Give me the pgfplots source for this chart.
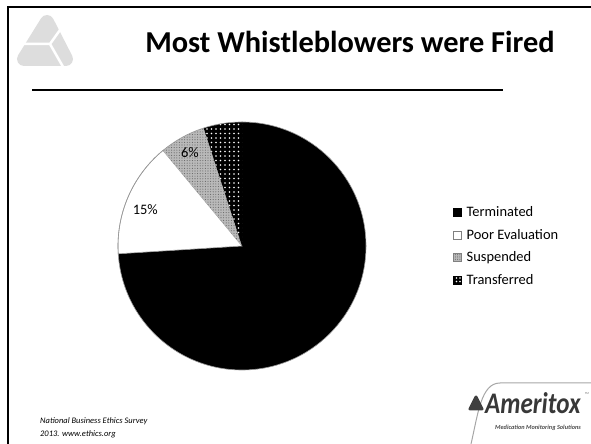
\documentclass[border=0pt]{standalone}
\usepackage{fontspec}
\setmainfont{Carlito}
\usepackage{pgfplots}
\pgfplotsset{compat=1.18}
\usepackage{pgfplotstable}
\usetikzlibrary{patterns.meta}

\pgfplotstableread{
label value
Terminated 74
Poor 15
Suspended 6
Transferred 5
}\piedata

\begin{document}
\begin{tikzpicture}[x=1bp,y=1bp]
\useasboundingbox (0,0) rectangle (591,444);
% slide frame
\draw[line width=2bp] (8,0) -- (8,437) -- (591,437);
% top-left logo
\begin{scope}
\filldraw[gray!27, line width=14bp, line join=round] (47,422) -- (24,385) -- (66,385) -- cycle;
\draw[white, line width=2.5bp] (10,400) -- (50,400) -- (70,428);
\draw[white, line width=2.5bp] (50,400) -- (66,372);
\end{scope}
% title
\node[anchor=base, font=\bfseries\fontsize{30.5}{33}\selectfont] at (350,391) {Most Whistleblowers were Fired};
\draw[line width=1.5bp] (32,354) -- (503,354);
% footer
\node[anchor=base west, inner sep=0pt, font=\itshape\fontsize{8.5}{10}\selectfont] at (40,20) {National Business Ethics Survey};
\node[anchor=base west, inner sep=0pt, font=\itshape\fontsize{8.5}{10}\selectfont] at (40,7) {2013. www.ethics.org};
% bottom-right logo
\draw[gray!70, line width=1bp] (471,0) .. controls (478,30) and (481,61) .. (500,61) -- (591,61);
\filldraw[black!75, line width=3bp, line join=round] (476,47) -- (470,35) -- (482,35) -- cycle;
\node[anchor=base west, inner sep=0pt, xscale=0.84, text=black!78, font=\bfseries\itshape\fontsize{30}{32}\selectfont] at (485,30) {Ameritox};
\node[anchor=base, inner sep=0pt, text=black!70, font=\bfseries\itshape\fontsize{6.3}{7}\selectfont] at (538,14) {Medication Monitoring Solutions};
\node[inner sep=0pt, text=black!60, font=\fontsize{3}{3}\selectfont] at (587,50) {TM};

% pie values
\pgfplotstablegetelem{0}{value}\of\piedata \let\vA\pgfplotsretval
\pgfplotstablegetelem{1}{value}\of\piedata \let\vB\pgfplotsretval
\pgfplotstablegetelem{2}{value}\of\piedata \let\vC\pgfplotsretval
\pgfplotstablegetelem{3}{value}\of\piedata \let\vD\pgfplotsretval
\pgfmathsetmacro\aA{90-3.6*\vA}
\pgfmathsetmacro\aB{\aA-3.6*\vB}
\pgfmathsetmacro\aC{\aB-3.6*\vC}
\pgfmathsetmacro\aD{\aC-3.6*\vD}

\begin{axis}[
  at={(242bp,198bp)}, anchor=center,
  x=124bp, y=124bp,
  xmin=-1, xmax=1, ymin=-1, ymax=1,
  hide axis, clip=false,
  legend image code/.code={\draw[#1] (0bp,-4bp) rectangle (8bp,4bp); \path (11bp,0bp);},
  legend style={at={(1.351,0.668)}, anchor=north west, draw=none, fill=none,
    font=\fontsize{14.5}{17}\selectfont, row sep=7bp, inner sep=0pt,
    cells={anchor=west}},
]
\addlegendimage{fill=black, draw=black}
\addlegendentry{Terminated}
\addlegendimage{fill=white, draw=gray}
\addlegendentry{Poor Evaluation}
\addlegendimage{preaction={fill=gray!55}, pattern={Dots[distance=2.2bp, radius=0.5bp]}, pattern color=black!70, draw=gray}
\addlegendentry{Suspended}
\addlegendimage{preaction={fill=black}, pattern={Dots[distance=3.5bp, radius=0.9bp, xshift=1.5bp, yshift=1.5bp]}, pattern color=white, draw=black}
\addlegendentry{Transferred}

\fill[black] (axis cs:0,0) -- ++(90:124bp) arc[start angle=90, end angle=\aA, radius=124bp] -- cycle;
\filldraw[fill=white, draw=gray!80, line width=0.6bp] (axis cs:0,0) -- ++(\aA:124bp) arc[start angle=\aA, end angle=\aB, radius=124bp] -- cycle;
\fill[gray!55] (axis cs:0,0) -- ++(\aB:124bp) arc[start angle=\aB, end angle=\aC, radius=124bp] -- cycle;
\fill[pattern={Dots[distance=2.6bp, radius=0.55bp]}, pattern color=black!60] (axis cs:0,0) -- ++(\aB:124bp) arc[start angle=\aB, end angle=\aC, radius=124bp] -- cycle;
\fill[black] (axis cs:0,0) -- ++(\aC:124bp) arc[start angle=\aC, end angle=\aD, radius=124bp] -- cycle;
\fill[pattern={Dots[distance=4.5bp, radius=0.9bp]}, pattern color=white] (axis cs:0,0) -- ++(\aC:124bp) arc[start angle=\aC, end angle=\aD, radius=124bp] -- cycle;
\draw[gray!80, line width=0.6bp] (axis cs:0,0) circle[radius=124bp];

\node[font=\fontsize{14.5}{17}\selectfont] at (axis cs:-0.78,0.29) {15\%};
\node[font=\fontsize{14.5}{17}\selectfont] at (axis cs:-0.42,0.75) {6\%};
\end{axis}
\end{tikzpicture}
\end{document}
